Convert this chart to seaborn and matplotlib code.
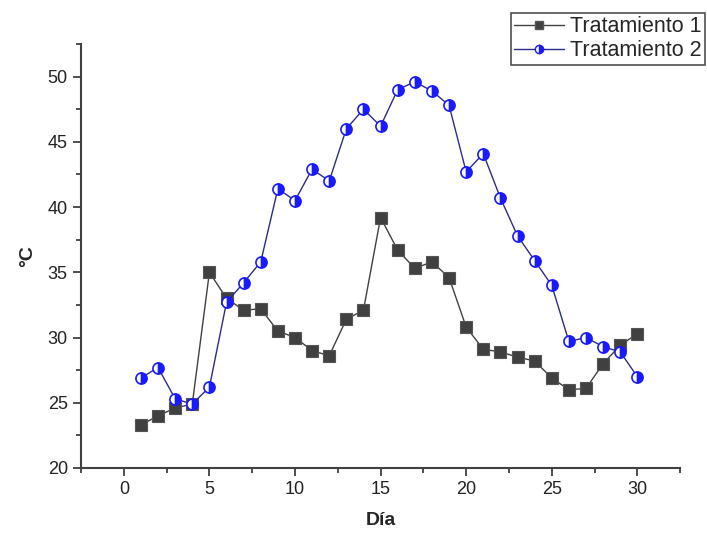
import numpy as np
import pandas as pd
import matplotlib
matplotlib.use("Agg")
import matplotlib.pyplot as plt
import seaborn as sns
from matplotlib.ticker import MultipleLocator
from matplotlib.lines import Line2D

# --- Data ---
dias = list(range(1, 31))
tratamiento_1 = [23.3, 24.0, 24.6, 24.9, 35.0, 33.0, 32.1, 32.2, 30.5, 30.0,
                 29.0, 28.6, 31.4, 32.1, 39.2, 36.7, 35.3, 35.8, 34.6, 30.8,
                 29.1, 28.9, 28.5, 28.2, 26.9, 26.0, 26.1, 28.0, 29.4, 30.3]
tratamiento_2 = [26.9, 27.7, 25.3, 24.9, 26.2, 32.7, 34.2, 35.8, 41.4, 40.5,
                 42.9, 42.0, 46.0, 47.5, 46.2, 49.0, 49.6, 48.9, 47.8, 42.7,
                 44.1, 40.7, 37.8, 35.9, 34.0, 29.7, 30.0, 29.3, 28.9, 27.0]
series_names = ["Tratamiento 1", "Tratamiento 2"]

df = pd.DataFrame({"Día": dias, series_names[0]: tratamiento_1, series_names[1]: tratamiento_2})

sns.set_style("white")
plt.rcParams['font.family'] = ['Liberation Sans', 'DejaVu Sans']

fig = plt.figure(figsize=(7.07, 5.34), dpi=100)
ax = fig.add_axes([0.1146, 0.1236, 0.962 - 0.1146, 0.9176 - 0.1236])

axis_col = "#404040"

# Tratamiento 1: dark gray squares
sns.lineplot(data=df, x="Día", y=series_names[0], ax=ax, color="#404040", linewidth=1.0,
             marker="s", markersize=8, markerfacecolor="#404040", markeredgecolor="#555555",
             markeredgewidth=0.8, label=series_names[0], legend=False)

# Tratamiento 2: half-filled blue circles
sns.lineplot(data=df, x="Día", y=series_names[1], ax=ax, color="#2b2b8c", linewidth=1.0,
             marker="o", markersize=8, fillstyle="right", markerfacecolor="#1a1aff",
             markerfacecoloralt="white", markeredgecolor="#1a1aff", markeredgewidth=1.2,
             label=series_names[1], legend=False)

ax.set_xlim(-2.5, 32.5)
ax.set_ylim(20, 52.5)
ax.xaxis.set_major_locator(MultipleLocator(5))
ax.xaxis.set_minor_locator(MultipleLocator(2.5))
ax.yaxis.set_major_locator(MultipleLocator(5))
ax.yaxis.set_minor_locator(MultipleLocator(2.5))

for side in ["top", "right"]:
    ax.spines[side].set_visible(False)
for side in ["left", "bottom"]:
    ax.spines[side].set_color(axis_col)
    ax.spines[side].set_linewidth(1.5)

ax.tick_params(which="major", direction="out", length=6, width=1.3, color=axis_col,
               labelsize=13, labelcolor="#222222", bottom=True, left=True)
ax.tick_params(which="minor", direction="out", length=3.5, width=1.3, color=axis_col,
               bottom=True, left=True)

ax.set_xlabel("Día", fontsize=14, fontweight="bold", labelpad=10)
ax.set_ylabel("°C", fontsize=14, fontweight="bold", labelpad=8)

# Legend box in the top right corner (partly outside the axes)
handles = [
    Line2D([], [], color="#404040", linewidth=1.0, marker="s", markersize=6,
           markerfacecolor="#404040", markeredgecolor="#555555"),
    Line2D([], [], color="#2b2b8c", linewidth=1.0, marker="o", markersize=6,
           fillstyle="right", markerfacecolor="#1a1aff", markerfacecoloralt="white",
           markeredgecolor="#1a1aff"),
]
leg = fig.legend(handles, series_names, loc="upper right", bbox_to_anchor=(0.997, 0.976),
                 fontsize=15.5, frameon=True, fancybox=False, borderpad=0.15,
                 handlelength=2.3, handletextpad=0.3, labelspacing=0.15, borderaxespad=0)
leg.get_frame().set_edgecolor("#222222")
leg.get_frame().set_linewidth(1.2)

plt.savefig("out.png", dpi=100)
plt.close()
